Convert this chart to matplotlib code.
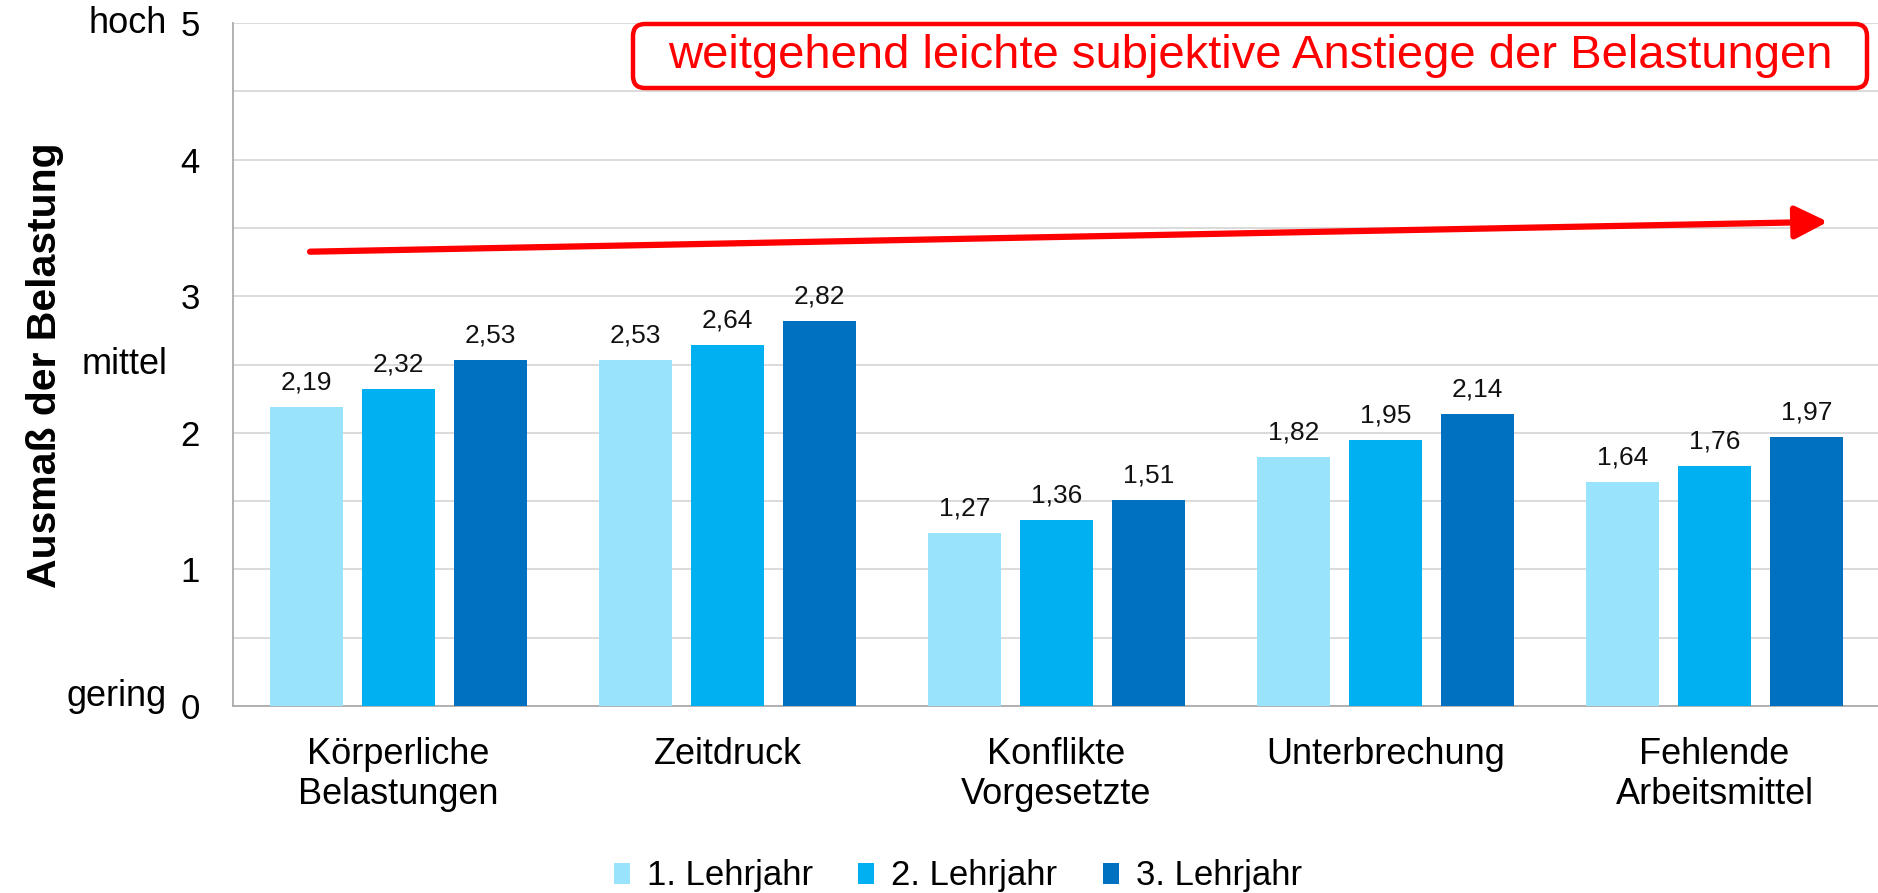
import matplotlib
matplotlib.use("Agg")
import matplotlib.pyplot as plt
import matplotlib.patches as mpatches
import matplotlib.transforms as mtransforms
import numpy as np

plt.rcParams['font.family'] = ['Liberation Sans', 'DejaVu Sans']

categories = ['Körperliche\nBelastungen', 'Zeitdruck', 'Konflikte\nVorgesetzte',
              'Unterbrechung', 'Fehlende\nArbeitsmittel']
series_names = ['1. Lehrjahr', '2. Lehrjahr', '3. Lehrjahr']
jahr1 = [2.19, 2.53, 1.27, 1.82, 1.64]
jahr2 = [2.32, 2.64, 1.36, 1.95, 1.76]
jahr3 = [2.53, 2.82, 1.51, 2.14, 1.97]
colors = ['#99E4FC', '#00B0F0', '#0070C0']
level_labels = {5: 'hoch', 2.5: 'mittel', 0: 'gering'}
title_text = 'weitgehend leichte subjektive Anstiege der Belastungen'


def fmt(v):
    return '{:.2f}'.format(v).replace('.', ',')


fig = plt.figure(figsize=(18.78, 8.93), dpi=100)
ax = fig.add_axes([0.1241, 0.2094, 0.8759, 0.7648])

x = np.arange(len(categories))
width = 0.222
step = 0.28
handles = []
for i, (vals, col) in enumerate(zip([jahr1, jahr2, jahr3], colors)):
    rects = ax.bar(x + (i - 1) * step, vals, width, color=col, zorder=3,
                   label=series_names[i])
    handles.append(rects)
    for r, v in zip(rects, vals):
        ax.annotate(fmt(v), xy=(r.get_x() + r.get_width() / 2, v),
                    xytext=(0, 9), textcoords='offset points',
                    ha='center', va='bottom', fontsize=19, color='#111111')

ax.set_xlim(-0.503, 4.497)
ax.set_ylim(0, 5)
ax.set_yticks(range(0, 6))
ax.set_yticks(np.arange(0.5, 5, 1), minor=True)
ax.yaxis.grid(True, which='both', color='#D4D4D4', lw=1.2, zorder=0)
ax.tick_params(axis='y', which='both', length=0, labelsize=25, pad=24)
ax.set_xticks(x)
ax.set_xticklabels(categories, fontsize=26, linespacing=1.2)
ax.tick_params(axis='x', length=0, pad=22)
for s in ['top', 'right']:
    ax.spines[s].set_visible(False)
for s in ['left', 'bottom']:
    ax.spines[s].set_color('#ABABAB')
    ax.spines[s].set_linewidth(1.3)

# verbal anchors next to the numeric ticks
ytr = ax.get_yaxis_transform()
for val, txt in level_labels.items():
    yy = val + 0.07 if val == 0 else val
    ax.text(-0.0401, yy, txt, transform=ytr, ha='right', va='center',
            fontsize=26, clip_on=False)

fig.text(0.024, 0.591, 'Ausmaß der Belastung', rotation=90, fontsize=29.5,
         fontweight='bold', ha='center', va='center')

# trend arrow
ax.annotate('', xy=(4.345, 3.545), xytext=(-0.269, 3.326),
            arrowprops=dict(arrowstyle='-|>,head_length=0.4,head_width=0.2',
                            color='#FF0000', lw=4.5, mutation_scale=50,
                            shrinkA=0, shrinkB=0), zorder=5)

# red framed statement
box = mpatches.FancyBboxPatch((633, 893 - 88), 1867 - 633, 64,
                              boxstyle='round,pad=0,rounding_size=12',
                              transform=mtransforms.IdentityTransform(),
                              fc='white', ec='#FF0000', lw=3.2, zorder=6)
fig.patches.append(box)
fig.text(1250 / 1878, 1 - 56 / 893, title_text, color='#FF0000', fontsize=34,
         ha='center', va='center', zorder=7)

fig.legend(handles=handles, labels=series_names, loc='center',
           bbox_to_anchor=(958 / 1878, 17 / 893), ncol=3, frameon=False,
           fontsize=25, handlelength=0.46, handleheight=0.55,
           handletextpad=0.49, columnspacing=1.3)

fig.savefig('out.png', dpi=100)
